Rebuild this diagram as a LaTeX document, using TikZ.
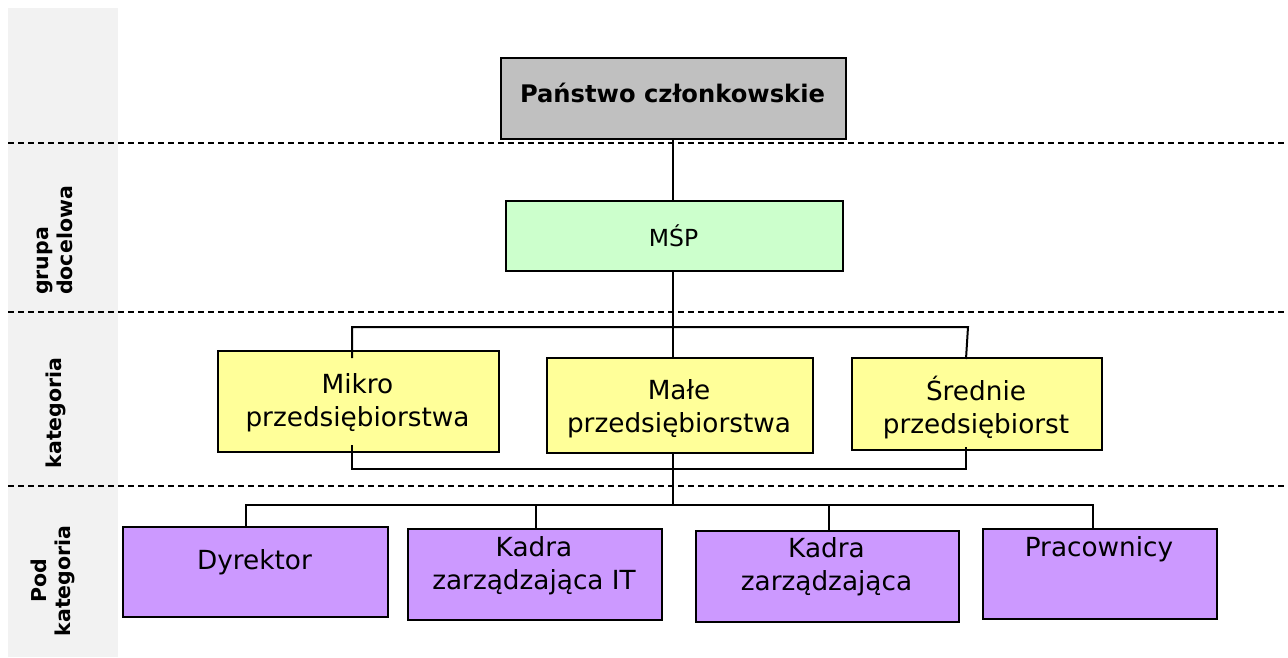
\documentclass[tikz,border=0pt]{standalone}
\usepackage{fontspec}
\setmainfont{DejaVu Sans}
\definecolor{bandgray}{HTML}{F2F2F2}
\definecolor{boxgray}{HTML}{C0C0C0}
\definecolor{boxgreen}{HTML}{CCFFCC}
\definecolor{boxyellow}{HTML}{FFFF99}
\definecolor{boxviolet}{HTML}{CC99FF}
\begin{document}
\begin{tikzpicture}[x=1pt,y=-1pt,
  box/.style={draw=black, line width=2.4pt, inner sep=0pt, anchor=north west},
  txt/.style={align=center, inner sep=0pt, font=\fontsize{26.3}{33}\selectfont},
  link/.style={line width=2pt, line join=miter},
  sep/.style={line width=1.8pt, dash pattern=on 6pt off 4pt},
  bandlabel/.style={rotate=90, inner sep=0pt,
    font=\bfseries\fontsize{20.5}{24}\selectfont}]
\useasboundingbox (0,0) rectangle (1288,657);
\fill[white] (0,0) rectangle (1288,657);
% side band with the level names
\fill[bandgray] (8,8) rectangle (118,657);
\node[bandlabel, align=left, anchor=west] (lgrupa) at (55,295) {grupa\\docelowa};
\node[bandlabel] (lkat) at (56,413) {kategoria};
\node[bandlabel, align=center] (lpod) at (53,581) {Pod\\kategoria};
% level separators
\draw[sep, line width=2.6pt] (8,143) -- (1288,143);
\draw[sep] (8,312) -- (1288,312);
\draw[sep] (8,486) -- (1288,486);
% boxes
\node[box, fill=boxgray, minimum width=345pt, minimum height=81pt] (ms) at (500,57) {};
\node[box, fill=boxgreen, minimum width=337pt, minimum height=70pt] (msp) at (505,200) {};
\node[box, fill=boxyellow, minimum width=281pt, minimum height=101pt] (mikro) at (217,350) {};
\node[box, fill=boxyellow, minimum width=266pt, minimum height=95pt] (male) at (546,357) {};
\node[box, fill=boxyellow, minimum width=250pt, minimum height=92pt] (sred) at (851,357) {};
\node[box, fill=boxviolet, minimum width=265pt, minimum height=90pt] (dyr) at (122,526) {};
\node[box, fill=boxviolet, minimum width=254pt, minimum height=91pt] (kit) at (407,528) {};
\node[box, fill=boxviolet, minimum width=263pt, minimum height=91pt] (kad) at (695,530) {};
\node[box, fill=boxviolet, minimum width=234pt, minimum height=90pt] (prac) at (982,528) {};
% box texts
\node[txt, font=\bfseries\fontsize{24.2}{30}\selectfont] (tms) at (672.5,93) {Państwo członkowskie};
\node[txt, font=\fontsize{23.5}{28}\selectfont] (tmsp) at (673.5,236) {MŚP};
\node[txt] (tmikro) at (357.5,403) {Mikro\\przedsiębiorstwa};
\node[txt] (tmale) at (679,409) {Małe\\przedsiębiorstwa};
\node[txt] (tsred) at (976,408) {Średnie\\przedsiębiorst};
\node[txt] (tdyr) at (254.5,562) {Dyrektor};
\node[txt] (tkit) at (534,566) {Kadra\\zarządzająca IT};
\node[txt] (tkad) at (826.5,567) {Kadra\\zarządzająca};
\node[txt] (tprac) at (1099,549) {Pracownicy};
% connector end points
\coordinate (c1) at (673,327);
\coordinate (mkTop) at (352,358);
\coordinate (brTR) at (968,327);
\coordinate (srTop) at (966,359);
\coordinate (mkBot) at (352,445);
\coordinate (srBot) at (966,447);
\coordinate (c2) at (673,469);
\coordinate (c3) at (673,505);
\coordinate (dyrTop) at (246,526);
\coordinate (kitTop) at (536,528);
\coordinate (kadTop) at (829,530);
\coordinate (pracTop) at (1093,528);
% connectors
\draw[link] (ms.south -| c1) -- (msp.north -| c1);
\draw[link] (msp.south -| c1) -- (male.north -| c1);
\draw[link] (mkTop) |- (brTR) -- (srTop);
\draw[link] (mkBot) |- (c2) -| (srBot);
\draw[link] (male.south -| c1) -- (c3);
\draw[link] (dyrTop) |- (pracTop |- c3) -- (pracTop);
\draw[link] (kitTop) -- (kitTop |- c3);
\draw[link] (kadTop) -- (kadTop |- c3);
\end{tikzpicture}
\end{document}
